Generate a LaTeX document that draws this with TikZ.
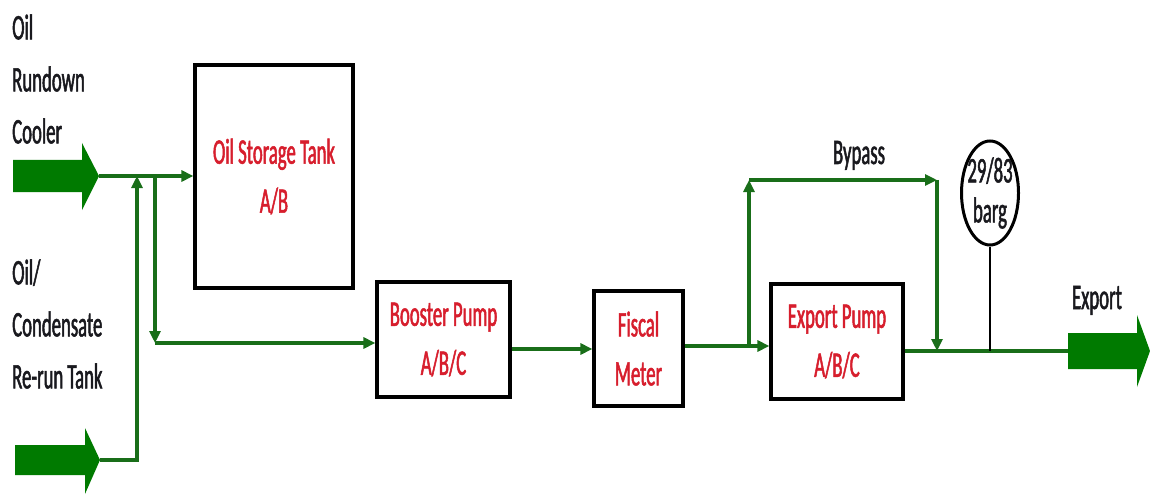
\documentclass[tikz,border=0pt]{standalone}
\usepackage{fontspec}
\newfontfamily\lblfont[FakeStretch=0.52,FakeBold=1.4]{Carlito}
\usetikzlibrary{arrows.meta,shapes.geometric}
\definecolor{pipegreen}{RGB}{25,110,25}
\definecolor{blockgreen}{RGB}{0,122,0}
\definecolor{lblred}{RGB}{215,30,45}
\definecolor{lblblack}{RGB}{25,25,30}
\begin{document}
\begin{tikzpicture}[x=1pt,y=-1pt,
  unitbox/.style={draw=black, line width=3.2pt, fill=white, inner sep=0pt, align=center,
    text=lblred, font=\lblfont\fontsize{36}{49}\selectfont},
  pipe/.style={draw=pipegreen, line width=3.4pt, -{Triangle[length=12pt,width=11pt]}},
  plainpipe/.style={draw=pipegreen, line width=3.4pt},
  blockarrow/.style={fill=blockgreen, draw=none},
  lbl/.style={text=lblblack, align=left, inner sep=0pt, font=\lblfont\fontsize{36}{52}\selectfont},
  gaugestyle/.style={draw=black, line width=3pt, ellipse, inner xsep=-8pt, inner ysep=-14pt,
    minimum width=57pt, minimum height=104pt, align=center, text=lblblack,
    font=\lblfont\fontsize{36}{40}\selectfont}
]
\useasboundingbox (0,0) rectangle (1150,497);

% block arrows
\fill[blockarrow] (13,160) -- (82,160) -- (82,143) -- (99,176) -- (82,210) -- (82,192) -- (13,192) -- cycle;
\fill[blockarrow] (15,445) -- (85,445) -- (85,428) -- (100,460) -- (85,494) -- (85,475) -- (15,475) -- cycle;
\fill[blockarrow] (1068,333) -- (1137,333) -- (1137,315) -- (1150,351) -- (1137,387) -- (1137,369) -- (1068,369) -- cycle;

% labels
\node[lbl, anchor=west] (src1) at (12,79) {Oil\\Rundown\\Cooler};
\node[lbl, anchor=west] (src2) at (12,324) {Oil/\\Condensate\\Re-run Tank};
\node[lbl, anchor=base] (bypasslbl) at (859,164) {Bypass};
\node[lbl, anchor=base] (exportlbl) at (1097,309) {Export};

% units
\node[unitbox, minimum width=158pt, minimum height=223pt] (tank) at (274,176.5) {Oil Storage Tank\\A/B};
\node[unitbox, minimum width=133pt, minimum height=115pt] (booster) at (443.5,339.5) {Booster Pump\\A/B/C};
\node[unitbox, minimum width=89pt, minimum height=115pt] (fiscal) at (638.5,348.5) {Fiscal\\Meter};
\node[unitbox, minimum width=132pt, minimum height=115pt] (expump) at (837,341.5) {Export Pump\\A/B/C};
\node[gaugestyle] (gauge) at (990,193) {29/83\\barg};

% coordinates
\coordinate (in1) at (99,176);
\coordinate (in2) at (100,460);
\coordinate (j1b) at (137,460);
\coordinate (j1t) at (137,176);
\coordinate (j2t) at (155,176);
\coordinate (j2b) at (155,343);
\coordinate (l1) at (0,349);
\coordinate (l2) at (0,346);
\coordinate (l3) at (0,351);
\coordinate (bp0) at (749,346);
\coordinate (bp1) at (749,180);
\coordinate (bp2) at (937,180);
\coordinate (bp3) at (937,351);
\coordinate (out) at (1068,351);

% pipes
\draw[pipe] (in1) -- (tank.west |- in1);
\draw[pipe] (in2) -- (j1b) -- (j1t);
\draw[pipe] (j2t) -- (j2b);
\draw[pipe] (j2b) -- (booster.west |- j2b);
\draw[pipe] (booster.east |- l1) -- (fiscal.west |- l1);
\draw[pipe] (fiscal.east |- l2) -- (expump.west |- l2);
\draw[pipe] (bp0) -- (bp1);
\draw[pipe] (bp1) -- (bp2);
\draw[pipe] (bp2) -- (bp3);
\draw[plainpipe] (expump.east |- l3) -- (out);
\draw[line width=1.5pt] (gauge.south) -- (gauge.south |- l3);
\end{tikzpicture}
\end{document}
